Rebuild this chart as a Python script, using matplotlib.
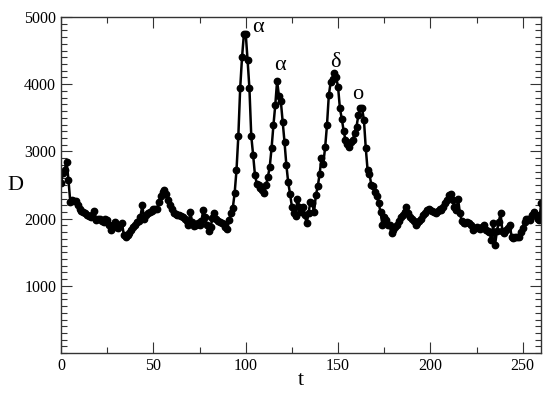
import matplotlib
matplotlib.use("Agg")
import matplotlib.pyplot as plt
from matplotlib.ticker import MultipleLocator

t = list(range(0, 261))
D = [
    2530, 2680, 2730, 2850, 2580, 2250, 2280, 2270, 2270, 2200,
    2150, 2120, 2100, 2080, 2060, 2040, 2030, 2060, 2120, 1980,
    2000, 1990, 1970, 1950, 2000, 1980, 1900, 1830, 1900, 1950,
    1880, 1860, 1900, 1930, 1760, 1730, 1760, 1790, 1830, 1870,
    1900, 1950, 1960, 2030, 2200, 1990, 2050, 2080, 2100, 2120,
    2140, 2150, 2150, 2250, 2330, 2400, 2430, 2360, 2280, 2200,
    2140, 2090, 2070, 2060, 2050, 2040, 2020, 2000, 1960, 1910,
    2100, 1950, 1890, 1900, 1930, 1910, 1960, 2130, 2030, 1900,
    1810, 1880, 2010, 2080, 1990, 1960, 1950, 1940, 1920, 1880,
    1840, 1980, 2090, 2160, 2380, 2720, 3230, 3940, 4400, 4740,
    4750, 4360, 3940, 3230, 2950, 2650, 2520, 2500, 2450, 2420,
    2380, 2500, 2620, 2770, 3050, 3390, 3690, 4050, 3820, 3750,
    3440, 3140, 2800, 2540, 2370, 2180, 2090, 2040, 2300, 2180,
    2100, 2170, 2050, 1930, 2080, 2250, 2230, 2100, 2350, 2480,
    2660, 2900, 2820, 3060, 3390, 3840, 4030, 4080, 4160, 4100,
    3960, 3640, 3490, 3310, 3170, 3110, 3070, 3140, 3170, 3280,
    3370, 3540, 3650, 3640, 3470, 3050, 2720, 2670, 2500, 2480,
    2400, 2330, 2230, 2100, 1910, 2030, 1980, 1910, 1900, 1780,
    1830, 1880, 1900, 1960, 2030, 2060, 2100, 2180, 2080, 2020,
    2000, 1960, 1910, 1930, 1970, 2000, 2050, 2080, 2130, 2150,
    2130, 2120, 2100, 2080, 2120, 2150, 2130, 2180, 2230, 2280,
    2350, 2370, 2280, 2180, 2130, 2290, 2080, 1960, 1940, 1930,
    1950, 1940, 1900, 1830, 1860, 1880, 1860, 1840, 1880, 1900,
    1830, 1820, 1800, 1680, 1930, 1610, 1810, 1950, 2080, 1810,
    1780, 1830, 1860, 1900, 1730, 1710, 1720, 1730, 1730, 1800,
    1860, 1950, 2000, 1990, 1980, 2050, 2100, 2050, 2000, 1980,
    2230,
]

ann_text = ["\u03b1", "\u03b1", "\u03b4", "o"]
ann_t = [106.5, 118.5, 148.8, 160.7]
ann_D = [4840, 4280, 4330, 3850]

plt.rcParams['font.family'] = ['Liberation Serif', 'DejaVu Serif']

fig = plt.figure(figsize=(5.5, 3.95), dpi=100)
ax = fig.add_axes([0.111, 0.106, 0.873, 0.851])

ax.plot(t, D, color='black', lw=1.8, marker='o', ms=4.6, mfc='black', mec='black')

for s, x, y in zip(ann_text, ann_t, ann_D):
    ax.text(x, y, s, fontsize=16, ha='center', va='center')

ax.set_xlim(0, 260)
ax.set_ylim(0, 5000)
ax.xaxis.set_major_locator(MultipleLocator(50))
ax.xaxis.set_minor_locator(MultipleLocator(25))
ax.yaxis.set_major_locator(MultipleLocator(1000))
ax.yaxis.set_minor_locator(MultipleLocator(100))
ax.set_yticks([1000, 2000, 3000, 4000, 5000])

ax.tick_params(which='both', direction='in', top=True, right=True, labelsize=11.5, width=0.8, color='#333333')
ax.tick_params(which='major', length=8)
ax.tick_params(which='minor', length=4)
for sp in ax.spines.values():
    sp.set_linewidth(1.0)
    sp.set_color('#333333')

ax.set_xlabel('t', fontsize=16, labelpad=-2)
ax.set_ylabel('D', fontsize=16, rotation=0, labelpad=6, va='center')

fig.savefig('out.png', dpi=100)
